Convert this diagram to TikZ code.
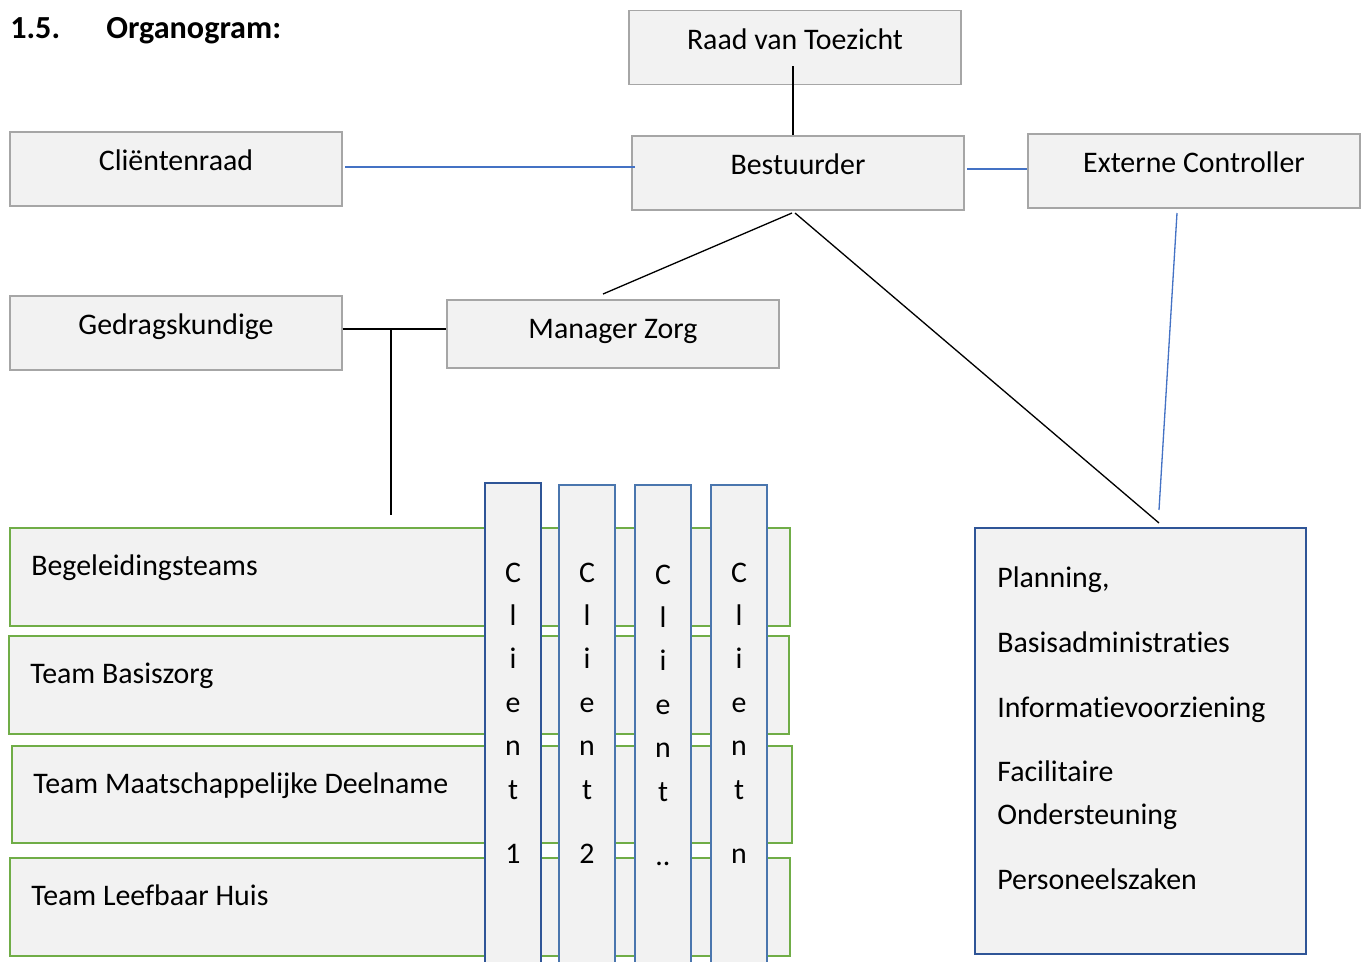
\documentclass[tikz,border=0pt]{standalone}
\usepackage{fontspec}
\setmainfont{Carlito}[Ligatures=NoCommon]
\definecolor{boxfill}{HTML}{F2F2F2}
\definecolor{boxline}{HTML}{A6A6A6}
\definecolor{grn}{HTML}{70AD47}
\definecolor{dblue}{HTML}{2F5597}
\definecolor{mblue}{HTML}{4A76AE}
\definecolor{lblue}{HTML}{4472C4}
\begin{document}
\begin{tikzpicture}[x=0.02cm,y=-0.02cm,
  txt/.style={font=\fontsize{17}{20}\selectfont, inner sep=0pt},
  gbox/.style={txt, draw=boxline, line width=0.7pt, fill=boxfill, minimum width=6.64cm, minimum height=1.48cm, text height=0.36cm, text depth=0.30cm},
  teambox/.style={draw=grn, line width=1.3pt, fill=boxfill, minimum width=15.6cm, minimum height=1.96cm, inner sep=0pt},
  colbox/.style={draw=mblue, line width=1.1pt, fill=boxfill, minimum width=1.12cm, inner sep=0pt},
  lbl/.style={txt, anchor=base west},
  letter/.style={txt, anchor=base},
  conn/.style={line width=0.75pt, black},
  bconn/.style={line width=0.75pt, lblue}]
\useasboundingbox (0,0) rectangle (1363,961);
\clip (0,0) rectangle (1363,961);
% title
\node[txt, anchor=base west, font=\fontsize{18.3}{22}\selectfont\bfseries] (num) at (10,38) {1.5.};
\node[txt, anchor=base west, font=\fontsize{18.3}{22}\selectfont\bfseries] (title) at (106,38) {Organogram:};
% top boxes
\node[gbox] (raad) at (795,47.5) {Raad van Toezicht};
\node[gbox] (best) at (798,173) {Bestuurder};
\node[gbox] (clr) at (176,169) {Cliëntenraad};
\node[gbox] (ext) at (1194,171) {Externe Controller};
\node[gbox] (ged) at (176,333) {Gedragskundige};
\node[gbox, minimum height=1.36cm, text height=0.40cm, text depth=0.24cm] (mgr) at (613,334) {Manager Zorg};
% team boxes
\node[teambox] (t1) at (400,577) {};
\node[teambox] (t2) at (399,685) {};
\node[teambox, minimum height=1.94cm] (t3) at (402,794.5) {};
\node[teambox] (t4) at (400,907) {};
\node[lbl] (t1t) at (31,575) {Begeleidingsteams};
\node[lbl] (t2t) at (30,683) {Team Basiszorg};
\node[lbl] (t3t) at (33,793) {Team Maatschappelijke Deelname};
\node[lbl] (t4t) at (31,905) {Team Leefbaar Huis};
% client columns
\node[colbox, draw=dblue, minimum height=9.94cm] (col1) at (513,731.5) {};
\node[colbox, minimum height=9.9cm] (col2) at (587,732.5) {};
\node[colbox, minimum height=9.9cm] (col3) at (663,732.5) {};
\node[colbox, minimum height=9.9cm] (col4) at (739,732.5) {};
\foreach \cx/\dy/\last/\nm in {513/0/1/a, 587/0/2/b, 663/2/{..}/c, 739/0/n/d}{
  \foreach \ch/\by/\k in {C/582/1, l/625/2, i/668/3, e/712/4, n/755/5, t/799/6}{
    \node[letter] (l\nm\k) at (\cx,\by+\dy) {\ch};
  }
  \node[letter] (l\nm7) at (\cx,863+\dy) {\last};
}
% support box
\node[draw=dblue, line width=1.2pt, fill=boxfill, minimum width=6.62cm, minimum height=8.52cm, inner sep=0pt] (plan) at (1140.5,741) {};
\node[lbl] (p1) at (997,587) {Planning,};
\node[lbl] (p2) at (997,652) {Basisadministraties};
\node[lbl] (p3) at (997,717) {Informatievoorziening};
\node[lbl] (p4) at (997,781) {Facilitaire};
\node[lbl] (p5) at (997,824) {Ondersteuning};
\node[lbl] (p6) at (997,889) {Personeelszaken};
% connectors
\coordinate (raadend) at (793,66);
\draw[conn] (raadend) -- (raadend |- best.north);
\draw[bconn] (345,167) coordinate (clrend) -- (635,167) coordinate (bestl);
\draw[bconn] (967,169) coordinate (bestr) -- (ext.west |- 0,169);
\coordinate (bsl) at (792,213);
\coordinate (bsr) at (795,213);
\coordinate (mgrtop) at (603,294);
\coordinate (plantop) at (1159,523);
\draw[conn] (bsl) -- (mgrtop);
\draw[conn] (bsr) -- (plantop);
\coordinate (extb) at (1177,213);
\coordinate (plantop2) at (1159,510);
\draw[bconn] (extb) -- (plantop2);
\draw[conn] (ged.east |- 0,329) -- (mgr.west |- 0,329);
\coordinate (gedv) at (391,329);
\coordinate (teamtop) at (391,515);
\draw[conn] (gedv) -- (teamtop);
\end{tikzpicture}
\end{document}
